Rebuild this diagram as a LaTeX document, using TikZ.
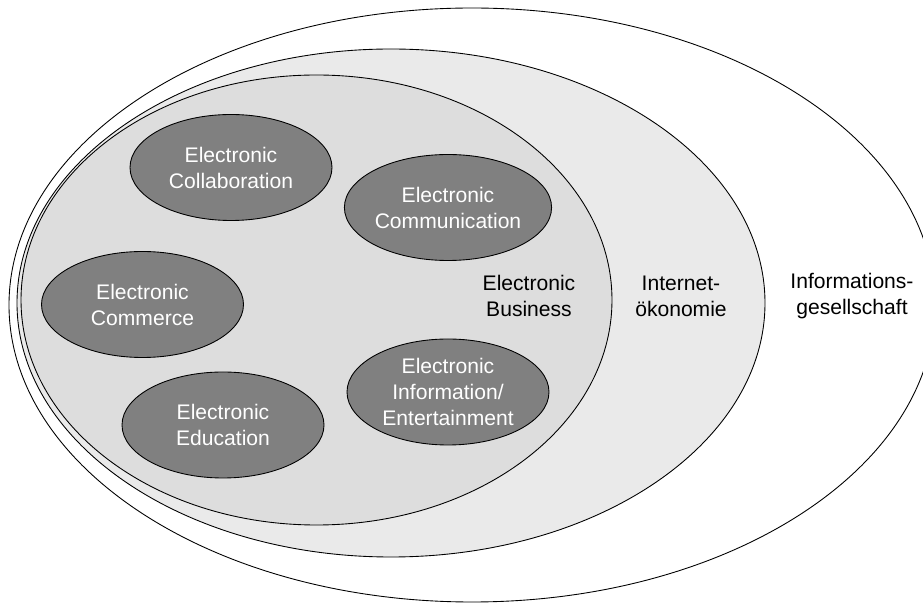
\documentclass[tikz,border=0pt]{standalone}
\usepackage{fontspec}
\setmainfont{Liberation Sans}
\usetikzlibrary{shapes.geometric}

\definecolor{gesgray}{RGB}{255,255,255}
\definecolor{ecogray}{RGB}{234,234,234}
\definecolor{busgray}{RGB}{221,221,221}
\definecolor{fieldgray}{RGB}{128,128,128}

\begin{document}
\begin{tikzpicture}[
  field/.style={ellipse, draw, line width=0.5pt, fill=fieldgray, text=white,
    minimum width=4.04cm, minimum height=2.12cm, inner sep=0pt, align=center,
    font=\fontsize{12}{14.8}\selectfont},
  ringtext/.style={align=center, font=\fontsize{12}{14.8}\selectfont}
]

\useasboundingbox (0,0) rectangle (18.46,12.06);
\clip (0,0) rectangle (18.46,12.06);

\filldraw[fill=gesgray, line width=0.5pt] (9.44,5.96) ellipse (9.26 and 5.94);
\filldraw[fill=ecogray, line width=0.5pt] (7.82,6.00) ellipse (7.48 and 5.08);
\filldraw[fill=busgray, line width=0.5pt] (6.33,6.06) ellipse (5.91 and 4.50);

\node[field] (collab) at (4.62,8.71) {Electronic\\Collaboration};
\node[field] (commu) at (8.96,7.91) {Electronic\\Communication};
\node[field] (commerce) at (2.85,5.97) {Electronic\\Commerce};
\node[field] (edu) at (4.46,3.56) {Electronic\\Education};
\node[field] (info) at (8.96,4.22) {Electronic\\Information/\\Entertainment};

\node[ringtext] (ebus) at (10.58,6.14) {Electronic\\Business};
\node[ringtext] (ioek) at (13.62,6.14) {Internet-\\ökonomie};
\node[ringtext] (iges) at (17.04,6.14) {Informations-\\gesellschaft};

\end{tikzpicture}
\end{document}
